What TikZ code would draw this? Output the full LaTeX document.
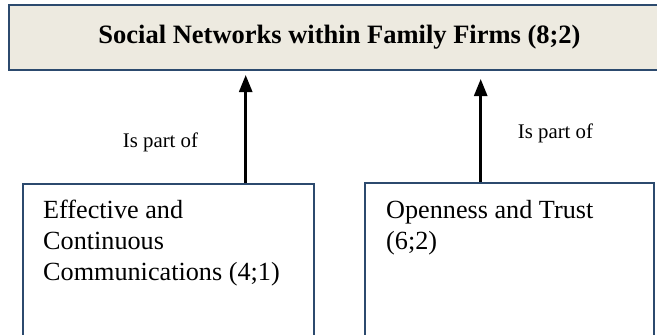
\documentclass[tikz,border=0pt]{standalone}
\usepackage{fontspec}
\setmainfont{Liberation Serif}
\usetikzlibrary{arrows.meta}

\definecolor{frameblue}{HTML}{2C4A6E}
\definecolor{paper}{HTML}{EDEAE0}

\tikzset{
  headbox/.style={draw=frameblue, line width=2.6pt, fill=paper, inner sep=0pt,
    font=\fontsize{26.5}{31}\selectfont\bfseries},
  itembox/.style={draw=frameblue, line width=2pt, inner sep=0pt},
  itemtext/.style={inner sep=0pt, anchor=north west, align=left,
    font=\fontsize{26.2}{31}\selectfont},
  linklabel/.style={inner sep=0pt, anchor=base, font=\fontsize{20.8}{24}\selectfont},
  partof/.style={line width=2.6pt, -{Triangle[length=17pt,width=13pt]}}
}

\begin{document}
\begin{tikzpicture}[x=1pt,y=-1pt]
  \useasboundingbox (0,0) rectangle (657,335);

  % concept at the top
  \node[headbox, minimum width=661pt, minimum height=65pt] (top) at (339.5,37.5)
    {Social Networks within Family Firms (8;2)};

  % the two component boxes (their lower parts run off the page)
  \node[itembox, anchor=north west, minimum width=291pt, minimum height=170pt] (left) at (22,183) {};
  \node[itembox, anchor=north west, minimum width=289pt, minimum height=170pt] (right) at (364,182) {};

  \node[itemtext] (lefttext) at (43,200)
    {Effective and\\Continuous\\Communications (4;1)};
  \node[itemtext] (righttext) at (386,200)
    {Openness and Trust\\(6;2)};

  % arrow tips stop short of the top box
  \coordinate (lefttip) at (245.7,75);
  \coordinate (righttip) at (480.7,79);

  \draw[partof] (left.north -| lefttip) -- (lefttip);
  \draw[partof] (right.north -| righttip) -- (righttip);

  \node[linklabel] (leftlabel) at (160.5,147) {Is part of};
  \node[linklabel] (rightlabel) at (555.5,138) {Is part of};
\end{tikzpicture}
\end{document}
